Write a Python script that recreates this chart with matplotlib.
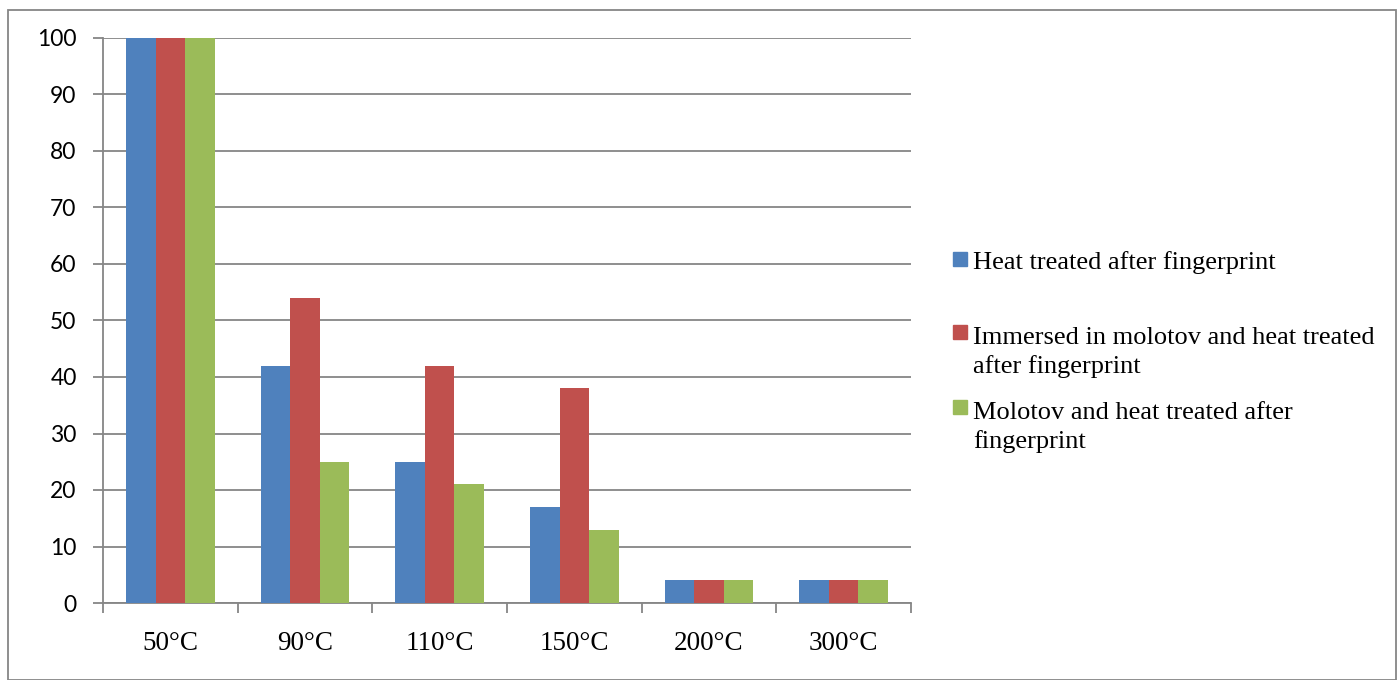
import matplotlib.pyplot as plt
import numpy as np
from matplotlib.patches import Rectangle

categories = ['50°C', '90°C', '110°C', '150°C', '200°C', '300°C']
heat_after = [100, 42, 25, 17, 4, 4]
immersed = [100, 54, 42, 38, 4, 4]
molotov_heat = [100, 25, 21, 13, 4, 4]
series_names = ['Heat treated after fingerprint',
                'Immersed in molotov and heat treated\nafter fingerprint',
                'Molotov and heat treated after\nfingerprint']
colors = ['#4F81BD', '#C0504D', '#9BBB59']
grid_col = '#868686'

W, H = 1398, 680
fig = plt.figure(figsize=(W/100, H/100), dpi=100)
# axes box in pixels: left 103, right 911, top 38, bottom 603
ax = fig.add_axes([103/W, 1-603/H, (911-103)/W, (603-38)/H])

x = np.arange(len(categories))
w = 0.22
for i, vals in enumerate([heat_after, immersed, molotov_heat]):
    ax.bar(x + (i-1)*w, vals, w, color=colors[i], zorder=3)

ax.set_xlim(-0.5, len(categories)-0.5)
ax.set_ylim(0, 100)
ax.set_yticks(range(0, 101, 10))
ax.yaxis.grid(True, color=grid_col, lw=1.3, zorder=0)
for s in ['top', 'right']:
    ax.spines[s].set_visible(False)
for s in ['left', 'bottom']:
    ax.spines[s].set_color(grid_col)
    ax.spines[s].set_linewidth(1.3)

ax.set_xticks(x)
ax.set_xticklabels(categories, family='Liberation Serif', fontsize=19.5)
ax.set_xticks(np.arange(-0.5, len(categories)), minor=True)
ax.tick_params(axis='x', which='major', length=0, pad=20)
ax.tick_params(axis='x', which='minor', length=7, width=1.3, color=grid_col, direction='out')
ax.tick_params(axis='y', length=7, width=1.3, color=grid_col, pad=12)
for lab in ax.get_yticklabels():
    lab.set_family('Lato')
    lab.set_fontsize(16.5)

# manual legend (Excel-like spacing), first-line baselines in px
leg_base = [269, 342, 417]
line_gap = 31
for c, name, yb in zip(colors, series_names, leg_base):
    fig.patches.append(Rectangle((953/W, 1-(yb-3)/H), 14/W, 14/H, color=c,
                                 transform=fig.transFigure, figure=fig))
    # baseline alignment on a multi-line text uses the last line
    last = yb + line_gap*name.count('\n')
    fig.text(973/W, 1-last/H, name, family='Liberation Serif', fontsize=19,
             va='baseline', ha='left', linespacing=1.36)

# outer frame
fig.patches.append(Rectangle((8/W, 0), (W-10)/W, 1-10/H, fill=False,
                             edgecolor=grid_col, lw=1.3,
                             transform=fig.transFigure, figure=fig))

fig.savefig('out.png', dpi=100)
